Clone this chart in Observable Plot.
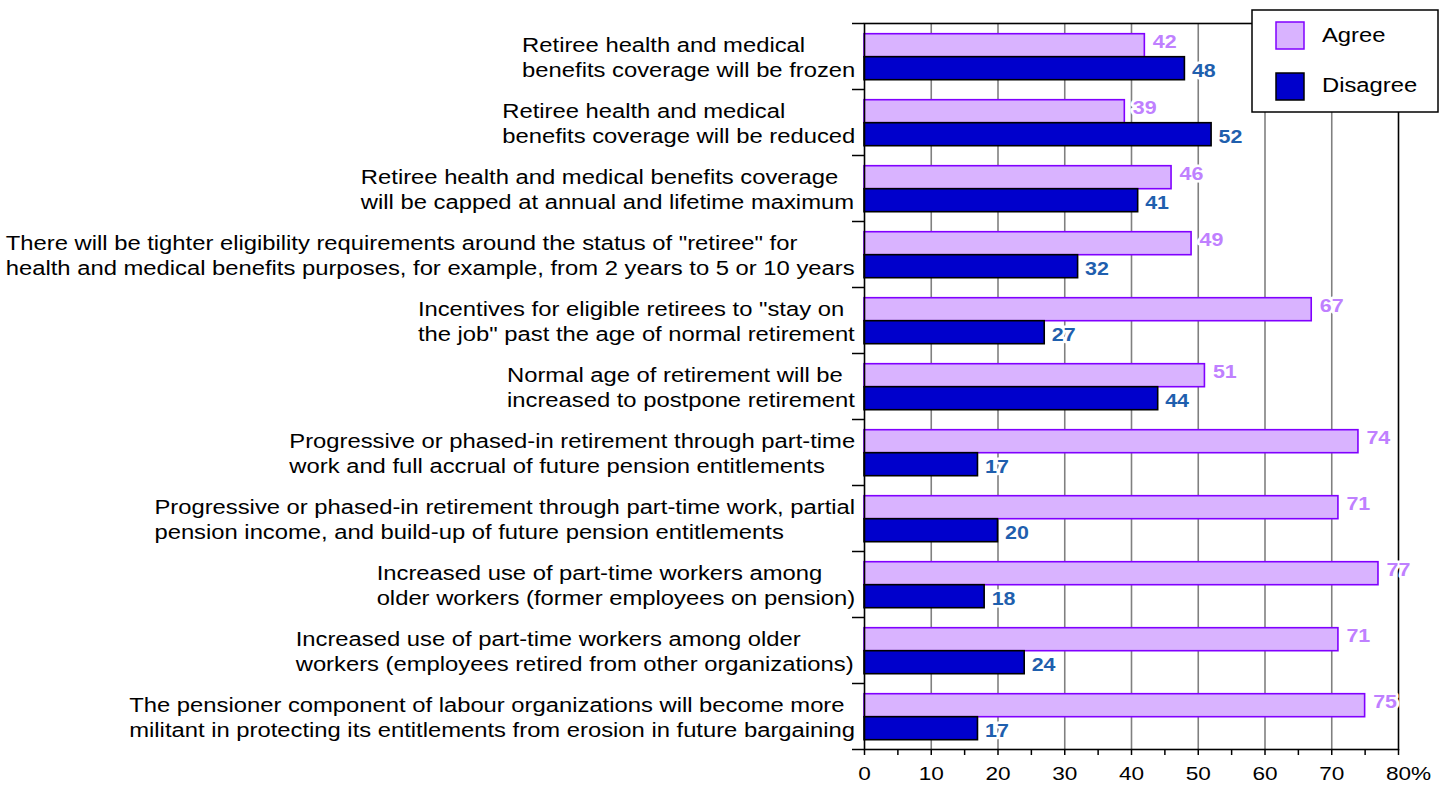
<!DOCTYPE html>
<html>
<head>
<meta charset="utf-8">
<script src="https://cdn.jsdelivr.net/npm/d3@7"></script>
<script src="https://cdn.jsdelivr.net/npm/@observablehq/plot@0.6"></script>
<style>
  html, body { margin: 0; padding: 0; background: #fff; }
  #chart { position: relative; width: 1453px; height: 788px; }
</style>
</head>
<body>
<div id="chart"></div>
<script>
const categories = [
  "Retiree health and medical\nbenefits coverage will be frozen",
  "Retiree health and medical\nbenefits coverage will be reduced",
  "Retiree health and medical benefits coverage\nwill be capped at annual and lifetime maximum",
  "There will be tighter eligibility requirements around the status of \"retiree\" for\nhealth and medical benefits purposes, for example, from 2 years to 5 or 10 years",
  "Incentives for eligible retirees to \"stay on\nthe job\" past the age of normal retirement",
  "Normal age of retirement will be\nincreased to postpone retirement",
  "Progressive or phased-in retirement through part-time\nwork and full accrual of future pension entitlements",
  "Progressive or phased-in retirement through part-time work, partial\npension income, and build-up of future pension entitlements",
  "Increased use of part-time workers among\nolder workers (former employees on pension)",
  "Increased use of part-time workers among older\nworkers (employees retired from other organizations)",
  "The pensioner component of labour organizations will become more\nmilitant in protecting its entitlements from erosion in future bargaining"
];
const agree    = [42, 39, 46, 49, 67, 51, 74, 71, 77, 71, 75];
const disagree = [48, 52, 41, 32, 27, 44, 17, 20, 18, 24, 17];
const seriesNames = ["Agree", "Disagree"];
const xTickValues = [0, 10, 20, 30, 40, 50, 60, 70, 80];
const xMinorTicks = [5, 15, 25, 35, 45, 55, 65, 75];

const rows = categories.map((c, i) => ({category: c, agree: agree[i], disagree: disagree[i]}));

const W = 1453, H = 788;
const mt = 23, mb = 39, ml = 864, mr = 55;
const bandH = (H - mt - mb) / categories.length;
const barH = 23, padTop = 10.7;
const FONT = "'Liberation Sans', Arial, Helvetica, sans-serif";
const STRETCH = 1.19; // the reference's lettering is horizontally wide
const agreeFill = "#d9b3ff", agreeStroke = "#8000ff";
const disFill = "#0000cc", disStroke = "#000000";

const plot = Plot.plot({
  width: W, height: H,
  marginTop: mt, marginBottom: mb, marginLeft: ml, marginRight: mr,
  style: {fontFamily: FONT, fontSize: "19px", background: "#ffffff", color: "#000"},
  x: {domain: [0, 80], axis: null},
  y: {domain: categories, axis: null, padding: 0},
  marks: [
    Plot.ruleX(xTickValues.slice(1, -1), {stroke: "#808080", strokeWidth: 1.6}),
    Plot.barX(rows, {y: "category", x: "agree", fill: agreeFill, stroke: agreeStroke, strokeWidth: 1.6,
      insetTop: padTop, insetBottom: bandH - padTop - barH}),
    Plot.barX(rows, {y: "category", x: "disagree", fill: disFill, stroke: disStroke, strokeWidth: 1.6,
      insetTop: padTop + barH, insetBottom: bandH - padTop - 2 * barH}),
    Plot.frame({stroke: "#000", strokeWidth: 1.6}),
    Plot.text(rows, {y: "category", x: "agree", text: d => String(d.agree), textAnchor: "start",
      dx: 8, dy: -14, fill: "#bf80ff", fontWeight: "bold", fontSize: 18,
      stroke: "#ffffff", strokeWidth: 5, paintOrder: "stroke"}),
    Plot.text(rows, {y: "category", x: "disagree", text: d => String(d.disagree), textAnchor: "start",
      dx: 7, dy: 14.5, fill: "#1f5fae", fontWeight: "bold", fontSize: 18,
      stroke: "#ffffff", strokeWidth: 5, paintOrder: "stroke"}),
    // category boundary ticks on the left
    Plot.axisY({tickSize: 12, tickFormat: () => "", label: null, dy: -bandH / 2, stroke: "#000", strokeWidth: 1.5}),
    Plot.axisY([categories[categories.length - 1]], {tickSize: 12, tickFormat: () => "", label: null, dy: bandH / 2, stroke: "#000", strokeWidth: 1.5}),
    // category labels
    Plot.text(rows, {y: "category", text: "category", frameAnchor: "left", textAnchor: "end",
      dx: -9, lineHeight: 1.22, fontSize: 20, fill: "#000"}),
    // x ticks below the axis
    Plot.axisX({ticks: [...xTickValues, ...xMinorTicks], tickSize: 6, tickFormat: () => "", label: null, stroke: "#000", strokeWidth: 1.5}),
    Plot.text(xTickValues.slice(0, -1), {x: d => d, text: d => String(d), frameAnchor: "bottom",
      lineAnchor: "top", dy: 17, fontSize: 19, fill: "#000"}),
    Plot.text(xTickValues.slice(-1), {x: d => d, text: d => d + "%", frameAnchor: "bottom",
      lineAnchor: "top", textAnchor: "start", dx: -12.6, dy: 17, fontSize: 19, fill: "#000"})
  ]
});

document.getElementById("chart").append(plot);

const catSet = new Set(categories.map(c => c.replace(/\n/g, "")));
// left-align the lines of each category label inside a right-aligned block,
// and widen all lettering horizontally like the reference
d3.select(plot).selectAll("text").each(function () {
  const content = this.textContent;
  if (catSet.has(content)) {
    const w = this.getBBox().width;
    this.setAttribute("text-anchor", "start");
    d3.select(this).selectAll("tspan").attr("x", -w);
  }
  if (content.length) {
    const t = this.getAttribute("transform") || "";
    this.setAttribute("transform", (t + ` scale(${STRETCH},1)`).trim());
  }
});

// legend box (top right, over the frame)
const svg = d3.select(plot);
const lg = svg.append("g").attr("font-family", FONT).attr("text-anchor", "start");
lg.append("rect").attr("x", 1252).attr("y", 10).attr("width", 186).attr("height", 102)
  .attr("fill", "#fff").attr("stroke", "#000").attr("stroke-width", 1.5);
const swatches = [[agreeFill, agreeStroke], [disFill, disStroke]];
seriesNames.forEach((name, i) => {
  lg.append("rect").attr("x", 1276).attr("y", 22 + i * 51).attr("width", 28).attr("height", 27)
    .attr("fill", swatches[i][0]).attr("stroke", swatches[i][1]).attr("stroke-width", 1.5);
  lg.append("text").attr("transform", `translate(1322,${42 + i * 50}) scale(${STRETCH},1)`)
    .attr("font-size", 20).attr("fill", "#000").text(name);
});
</script>
</body>
</html>
